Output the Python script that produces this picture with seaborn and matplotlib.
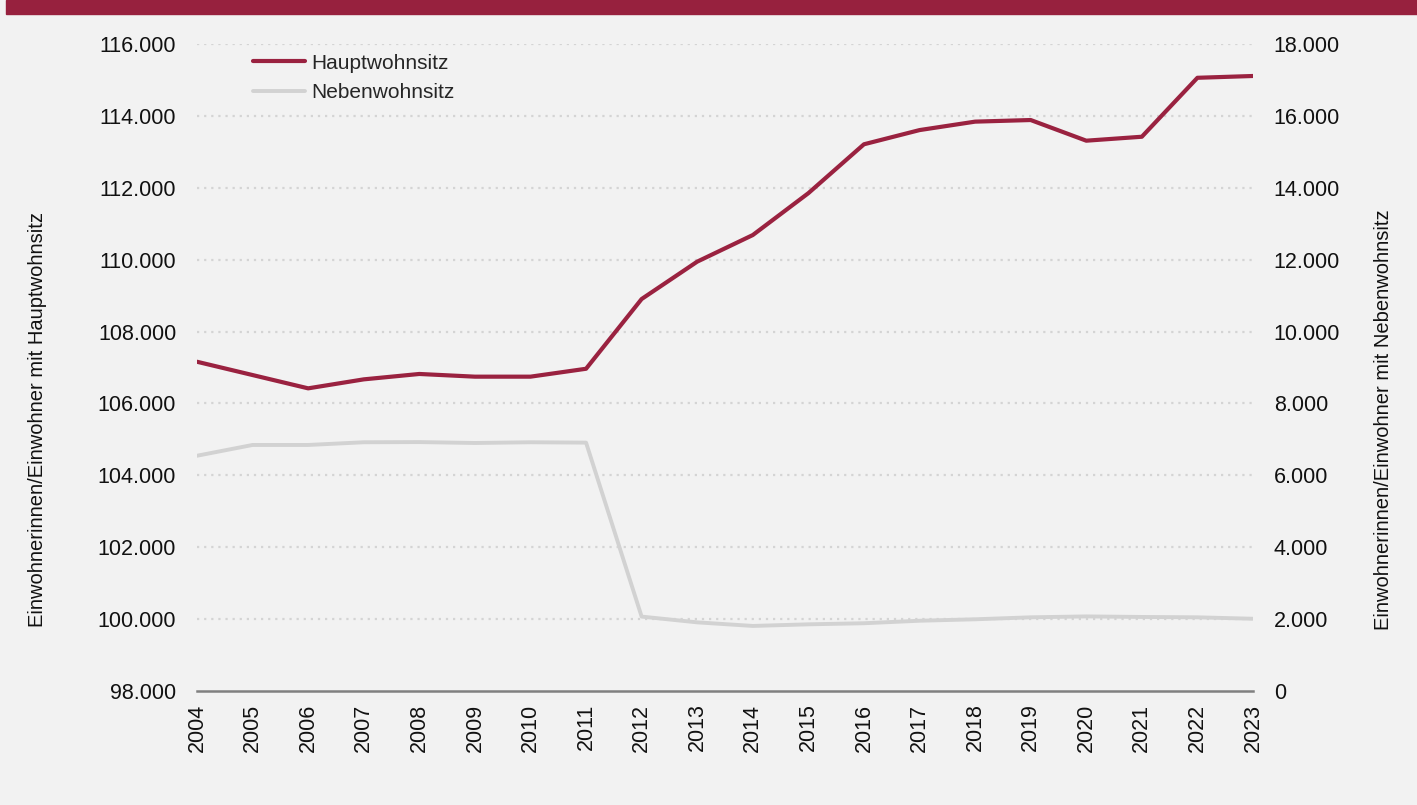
import numpy as np
import pandas as pd
import matplotlib.pyplot as plt
import matplotlib.patches as mpatches
from matplotlib.ticker import FuncFormatter
import seaborn as sns

# values
years = list(range(2004, 2024))
haupt = [107160, 106790, 106420, 106670, 106820, 106745, 106745, 106965,
         108905, 109945, 110685, 111850, 113210, 113605, 113840, 113885,
         113310, 113420, 115060, 115110]
neben = [6545, 6845, 6845, 6920, 6925, 6900, 6920, 6910,
         2070, 1910, 1810, 1855, 1885, 1955, 1995, 2050,
         2075, 2060, 2050, 2010]
left_ticks = list(range(98000, 116001, 2000))
right_ticks = list(range(0, 18001, 2000))

red = '#9a2240'
grey = '#d2d2d2'
bg = '#f2f2f2'
txt = '#111111'

sns.set_style('white', {'axes.facecolor': bg, 'figure.facecolor': bg})
plt.rcParams['font.family'] = ['Liberation Sans', 'DejaVu Sans']

df = pd.DataFrame({'Jahr': years, 'Hauptwohnsitz': haupt, 'Nebenwohnsitz': neben})

f = plt.figure(figsize=(14.17, 8.05), dpi=100)
ax = f.add_axes([197 / 1417, 1 - 691 / 805, (1253 - 197) / 1417, (691 - 44) / 805])
ax2 = ax.twinx()

sns.lineplot(data=df, x='Jahr', y='Hauptwohnsitz', ax=ax, color=red, linewidth=3.0,
             label='Hauptwohnsitz', legend=False, zorder=5)
sns.lineplot(data=df, x='Jahr', y='Nebenwohnsitz', ax=ax2, color=grey, linewidth=2.8,
             label='Nebenwohnsitz', legend=False)
ax.set_zorder(ax2.get_zorder() + 1)
ax.patch.set_visible(False)

fmt = FuncFormatter(lambda v, p: '0' if v == 0 else f'{v:,.0f}'.replace(',', '.'))

ax.set_xlim(2004, 2023)
ax.set_ylim(98000, 116000)
ax2.set_ylim(0, 18000)
ax.set_yticks(left_ticks)
ax2.set_yticks(right_ticks)
ax.yaxis.set_major_formatter(fmt)
ax2.yaxis.set_major_formatter(fmt)
ax.set_xticks(years)
ax.set_xticklabels([str(y) for y in years], rotation=90)

for a in (ax, ax2):
    for s in a.spines.values():
        s.set_visible(False)
ax.spines['bottom'].set_visible(True)
ax.spines['bottom'].set_color('#808080')
ax.spines['bottom'].set_linewidth(1.8)

ax.tick_params(axis='x', length=6, width=1.8, color='#808080', labelsize=15.5, pad=3,
               labelcolor=txt)
ax.tick_params(axis='y', length=0, labelsize=15.5, pad=15, labelcolor=txt)
ax2.tick_params(axis='y', length=0, labelsize=15.5, pad=15, labelcolor=txt)

# dotted gridlines
for v in left_ticks[1:]:
    ax2.axhline(v - 98000, color='#d4d4d4', linewidth=1.6, linestyle=(0, (1, 2.2)), zorder=0)

ax.set_xlabel('')
ax.set_ylabel('Einwohnerinnen/Einwohner mit Hauptwohnsitz', fontsize=14.5, color=txt)
ax2.set_ylabel('Einwohnerinnen/Einwohner mit Nebenwohnsitz', fontsize=14.5, color=txt)
ax.yaxis.set_label_coords(-150 / 1056, 0.42)
ax2.yaxis.set_label_coords(1 + 121 / 1056, 0.42)

h1, l1 = ax.get_legend_handles_labels()
h2, l2 = ax2.get_legend_handles_labels()
ax.legend(h1 + h2, l1 + l2, loc='upper left', bbox_to_anchor=(0.035, 1.014), frameon=False,
          fontsize=15, handlelength=2.5, handletextpad=0.3, labelspacing=0.5)

# top band
f.patches.append(mpatches.Rectangle((6 / 1417, 1 - 14 / 805), 1, 14 / 805,
                                    transform=f.transFigure, color='#97213e', zorder=10))

f.savefig('out.png', dpi=100, facecolor=bg)
